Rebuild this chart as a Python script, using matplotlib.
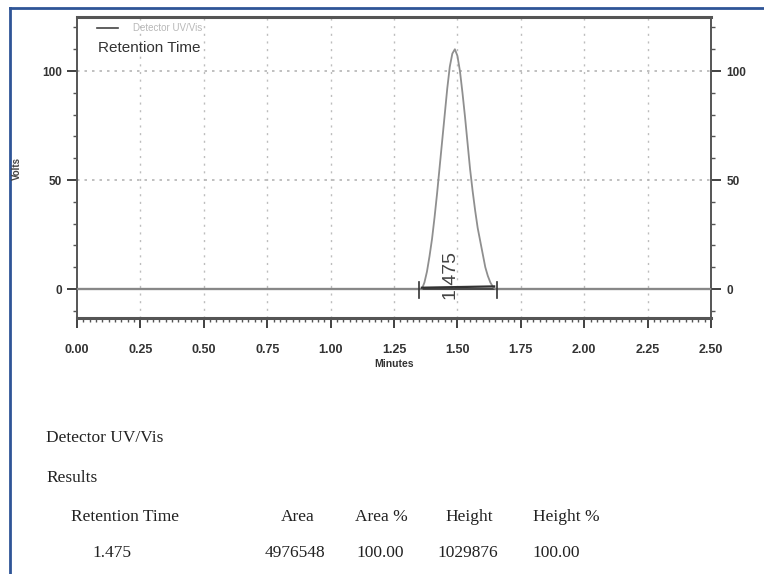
import matplotlib
matplotlib.use("Agg")
import matplotlib.pyplot as plt
from matplotlib.ticker import MultipleLocator
from matplotlib.lines import Line2D

# ---- data ----
time_min = [0.00, 1.30, 1.36, 1.37, 1.38, 1.39, 1.40, 1.41, 1.42, 1.43, 1.44, 1.45,
            1.46, 1.47, 1.48, 1.49, 1.50, 1.51, 1.52, 1.53, 1.54, 1.55, 1.56, 1.57,
            1.58, 1.59, 1.60, 1.61, 1.62, 1.63, 1.64, 1.65, 2.50]
signal_volts = [0, 0, 0, 3, 8, 15, 23, 33, 44, 56, 68, 80,
                92, 102, 108, 110, 107, 100, 90, 79, 67, 55, 45, 36,
                28, 22, 16, 10, 6, 3, 1, 0, 0]
peak_label = "1.475"
peak_start, peak_end = 1.35, 1.655
peak_rt = 1.475
x_ticks = [0.00, 0.25, 0.50, 0.75, 1.00, 1.25, 1.50, 1.75, 2.00, 2.25, 2.50]
y_ticks = [0, 50, 100]

table_header = ["Retention Time", "Area", "Area %", "Height", "Height %"]
table_values = ["1.475", "4976548", "100.00", "1029876", "100.00"]

W, H = 764, 574
fig = plt.figure(figsize=(W / 100, H / 100), dpi=100)
fig.patch.set_facecolor("white")

sans = ["Liberation Sans", "DejaVu Sans"]
serif = ["Liberation Serif", "DejaVu Serif"]

ax = fig.add_axes([77 / W, 1 - 318 / H, (711 - 77) / W, (318 - 17) / H])
ax.set_xlim(0, 2.5)
ax.set_ylim(-13.3, 124.8)

# grid
for xv in x_ticks[1:-1]:
    ax.axvline(xv, color="#bdbdbd", lw=1.0, ls=(0, (1.5, 4)), zorder=0)
for yv in [50, 100]:
    ax.axhline(yv, color="#b5b5b5", lw=1.2, ls=(0, (1.5, 3)), zorder=0)

# baseline and signal
ax.axhline(0, color="#4a4a4a", lw=1.6, zorder=2)
ax.plot(time_min, signal_volts, color="#8f8f8f", lw=1.3, zorder=3)

# integration markers
ax.plot([peak_start + 0.01, peak_end - 0.01], [0.6, 1.2], color="#333333", lw=1.6, zorder=4)
for xv in (peak_start, peak_end):
    ax.plot([xv, xv], [-4, 3], color="#333333", lw=1.2, zorder=4)
ax.text(peak_rt - 0.005, -4.5, peak_label, rotation=90, ha="center", va="bottom",
        fontsize=14, color="#444444", family=sans, zorder=5)

# ticks
ax.set_xticks(x_ticks)
ax.set_xticklabels([f"{v:.2f}" for v in x_ticks])
ax.xaxis.set_minor_locator(MultipleLocator(0.025))
ax.set_yticks(y_ticks)
ax.yaxis.set_minor_locator(MultipleLocator(10))
ax.tick_params(axis="x", which="major", direction="out", length=7, width=1.3,
               pad=12, labelsize=9, colors="#333333")
ax.tick_params(axis="x", which="minor", direction="out", length=3, width=1.0, colors="#555555")
ax.tick_params(axis="y", which="major", direction="out", length=7, width=1.3,
               pad=4, labelsize=8.5, colors="#333333", right=True, labelright=True)
ax.tick_params(axis="y", which="minor", direction="out", length=3, width=1.0,
               colors="#555555", right=True)
for lab in ax.get_xticklabels() + ax.get_yticklabels():
    lab.set_family(sans)
    lab.set_fontweight("bold")

for side, s in ax.spines.items():
    s.set_color("#555555")
    s.set_linewidth(1.4)
ax.spines["top"].set_linewidth(2.2)
ax.spines["bottom"].set_linewidth(2.2)

ax.set_xlabel("Minutes", fontsize=7.5, fontweight="bold", family=sans, color="#333333", labelpad=2)
fig.text(17 / W, 1 - 168 / H, "Volts", rotation=90, ha="center", va="center",
         fontsize=7, fontweight="bold", color="#444444", family=sans)

# legend-like text
ax.add_line(Line2D([20 / 634, 41 / 634], [1 - 11 / 301, 1 - 11 / 301], transform=ax.transAxes,
                   color="#444444", lw=1.2))
ax.text(56 / 634, 1 - 11 / 301, "Detector UV/Vis", transform=ax.transAxes, ha="left",
        va="center", fontsize=7, color="#b8b8b8", family=sans)
ax.text(21 / 634, 1 - 31 / 301, "Retention Time", transform=ax.transAxes, ha="left",
        va="center", fontsize=11, color="#333333", family=sans)

# blue frame
fig.add_artist(Line2D([10 / W, 10 / W], [0, 1 - 8 / H], color="#2f5597", lw=2))
fig.add_artist(Line2D([10 / W, 1], [1 - 8 / H, 1 - 8 / H], color="#2f5597", lw=2))

# results text
fig.text(46 / W, 1 - 438 / H, "Detector UV/Vis", fontsize=12.5, family=serif,
         color="#222222", va="center")
fig.text(46 / W, 1 - 478 / H, "Results", fontsize=12.5, family=serif,
         color="#222222", va="center")
hx = [125, 298, 381, 469, 566]
vx = [112, 295, 380, 468, 556]
for lbl, xp in zip(table_header, hx):
    fig.text(xp / W, 1 - 517 / H, lbl, fontsize=12.5, family=serif, color="#222222",
             ha="center", va="center")
for lbl, xp in zip(table_values, vx):
    fig.text(xp / W, 1 - 553 / H, lbl, fontsize=12.5, family=serif, color="#222222",
             ha="center", va="center")

fig.savefig("out.png", dpi=100)
